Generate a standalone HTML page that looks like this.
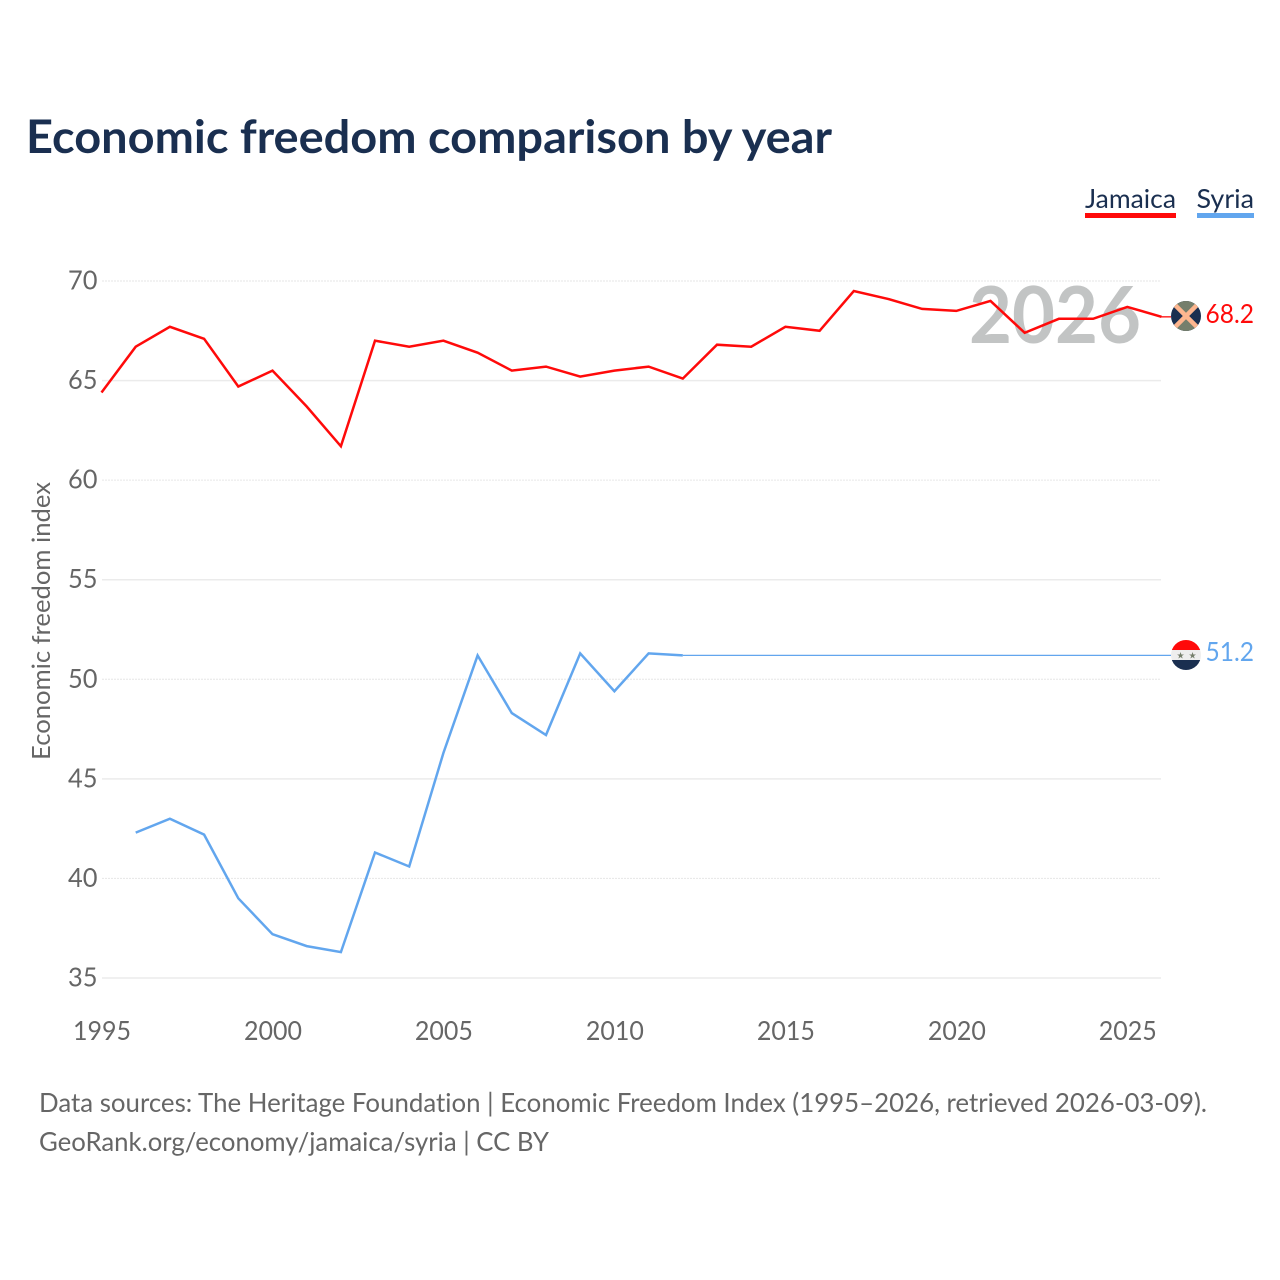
<!DOCTYPE html>
<html lang="en"><head><meta charset="utf-8"><title>Economic freedom comparison by year</title>
<style>
html,body{margin:0;padding:0;background:#fff}
svg{display:block}
text{font-family:"Lato","Carlito","Liberation Sans",sans-serif;font-variant-ligatures:none}
</style></head>
<body>
<svg id="chart" xmlns="http://www.w3.org/2000/svg" width="1280" height="1280" viewBox="0 0 1280 1280">
<rect width="1280" height="1280" fill="#fff"/>
<text x="26" y="153" font-size="46" font-weight="700" fill="#1a2f50" textLength="806" lengthAdjust="spacingAndGlyphs">Economic freedom comparison by year</text>
<g>
<text x="1085" y="208" font-size="26" fill="#1a2f50" textLength="91" lengthAdjust="spacingAndGlyphs">Jamaica</text>
<rect x="1085" y="213" width="91" height="5" fill="#ff0a0a"/>
</g>
<g>
<text x="1196.5" y="208" font-size="26" fill="#1a2f50" textLength="57.5" lengthAdjust="spacingAndGlyphs">Syria</text>
<rect x="1197" y="213" width="57" height="5" fill="#62a6ee"/>
</g>
<g id="grid"></g>
<text x="1055" y="343" font-size="79" font-weight="700" fill="#c2c4c4" text-anchor="middle" textLength="172" lengthAdjust="spacingAndGlyphs">2026</text>
<g id="yticks"></g>
<g id="xticks"></g>
<text transform="translate(50 621) rotate(-90)" font-size="25" fill="#666" text-anchor="middle" textLength="278" lengthAdjust="spacingAndGlyphs">Economic freedom index</text>
<g id="series"></g>
<g>
<clipPath id="clipJ"><circle cx="1186" cy="316" r="15"/></clipPath>
<g clip-path="url(#clipJ)">
<rect x="1171" y="301" width="30" height="30" fill="#1a2f50"/>
<polygon points="1171,301 1201,301 1186,316" fill="#757f6c"/>
<polygon points="1171,331 1201,331 1186,316" fill="#757f6c"/>
<path d="M1173 303L1199 329M1199 303L1173 329" stroke="#fdb68f" stroke-width="4.5"/>
</g>
</g>
<g>
<clipPath id="clipS"><circle cx="1186" cy="655" r="15"/></clipPath>
<g clip-path="url(#clipS)">
<rect x="1171" y="640" width="30" height="10" fill="#ff0a0a"/>
<rect x="1171" y="650" width="30" height="10" fill="#eeeeee"/>
<rect x="1171" y="660" width="30" height="10" fill="#1a2f50"/>
</g>
<text x="1180.5" y="658.5" font-size="9" fill="#757f6c" text-anchor="middle" style="font-family:'DejaVu Sans',sans-serif">★</text>
<text x="1192.5" y="658.5" font-size="9" fill="#757f6c" text-anchor="middle" style="font-family:'DejaVu Sans',sans-serif">★</text>
</g>
<text x="1205.5" y="323" font-size="26" fill="#ff0a0a" textLength="48.5" lengthAdjust="spacingAndGlyphs">68.2</text>
<text x="1205.5" y="661" font-size="26" fill="#62a6ee" textLength="48.5" lengthAdjust="spacingAndGlyphs">51.2</text>
<text x="39" y="1112" font-size="26" fill="#666" textLength="1168" lengthAdjust="spacingAndGlyphs">Data sources: The Heritage Foundation | Economic Freedom Index (1995–2026, retrieved 2026-03-09).</text>
<text x="39" y="1151" font-size="26" fill="#666" textLength="510" lengthAdjust="spacingAndGlyphs">GeoRank.org/economy/jamaica/syria | CC BY</text>
</svg>
<script>
const years = [1995,1996,1997,1998,1999,2000,2001,2002,2003,2004,2005,2006,2007,2008,2009,2010,2011,2012,2013,2014,2015,2016,2017,2018,2019,2020,2021,2022,2023,2024,2025,2026];
const jamaica = [64.4,66.7,67.7,67.1,64.7,65.5,63.7,61.7,67.0,66.7,67.0,66.4,65.5,65.7,65.2,65.5,65.7,65.1,66.8,66.7,67.7,67.5,69.5,69.1,68.6,68.5,69.0,67.4,68.1,68.1,68.7,68.2];
const syria = [null,42.3,43.0,42.2,39.0,37.2,36.6,36.3,41.3,40.6,46.3,51.2,48.3,47.2,51.3,49.4,51.3,51.2];
const syriaCarried = [[2012,51.2],[2026,51.2]];
const yTicks = [35,40,45,50,55,60,65,70];
const xTicks = [1995,2000,2005,2010,2015,2020,2025];

const NS = 'http://www.w3.org/2000/svg';
const xScale = y => 101.5 + (y - 1995) * (1161.5 - 101.5) / 31;
const yScale = v => 281 + (70 - v) * (978 - 281) / 35;
function make(tag, attrs, parent, txt) {
  const el = document.createElementNS(NS, tag);
  for (const k in attrs) el.setAttribute(k, attrs[k]);
  if (txt !== undefined) el.textContent = txt;
  parent.appendChild(el);
  return el;
}
const grid = document.getElementById('grid');
const yG = document.getElementById('yticks');
const xG = document.getElementById('xticks');
const sG = document.getElementById('series');
yTicks.forEach(t => {
  const major = t % 10 === 0;
  const line = make('line', {x1: 102, x2: 1161, y1: yScale(t), y2: yScale(t), stroke: major ? '#e6e6e6' : '#ebebeb', 'stroke-width': major ? 1 : 1.5, 'stroke-dasharray': major ? '2 1' : 'none'}, grid);
  
  
  const lab = make('text', {x: 97.5, y: yScale(t) + 8.5, 'font-size': 26, fill: '#666', 'text-anchor': 'end', textLength: 29.5, lengthAdjust: 'spacingAndGlyphs'}, yG, t);
  
  
});
xTicks.forEach(t => {
  const lab = make('text', {x: xScale(t) + 0.5, y: 1040, 'font-size': 26, fill: '#666', 'text-anchor': 'middle', textLength: 58, lengthAdjust: 'spacingAndGlyphs'}, xG, t);
  
  
});
function pathFrom(values) {
  const pts = [];
  values.forEach((v, i) => { if (v !== null) pts.push(xScale(years[i]).toFixed(1) + ',' + yScale(v).toFixed(1)); });
  return pts.join(' ');
}
const jam = make('polyline', {points: pathFrom(jamaica), fill: 'none', stroke: '#ff0a0a', 'stroke-width': 2.5, 'stroke-linejoin': 'miter'}, sG);


const lastJ = jamaica[jamaica.length - 1];
const jamEnd = make('line', {x1: xScale(2026), x2: 1171, y1: yScale(lastJ), y2: yScale(lastJ), stroke: '#ff0a0a', 'stroke-width': 1.3}, sG);


const syr = make('polyline', {points: pathFrom(syria), fill: 'none', stroke: '#62a6ee', 'stroke-width': 2.5}, sG);


const carried = make('polyline', {points: syriaCarried.map(d => xScale(d[0]).toFixed(1) + ',' + yScale(d[1]).toFixed(1)).join(' ') + ' 1171,' + yScale(syriaCarried[1][1]).toFixed(1), fill: 'none', stroke: '#62a6ee', 'stroke-width': 1.3}, sG);


</script>
</body></html>
